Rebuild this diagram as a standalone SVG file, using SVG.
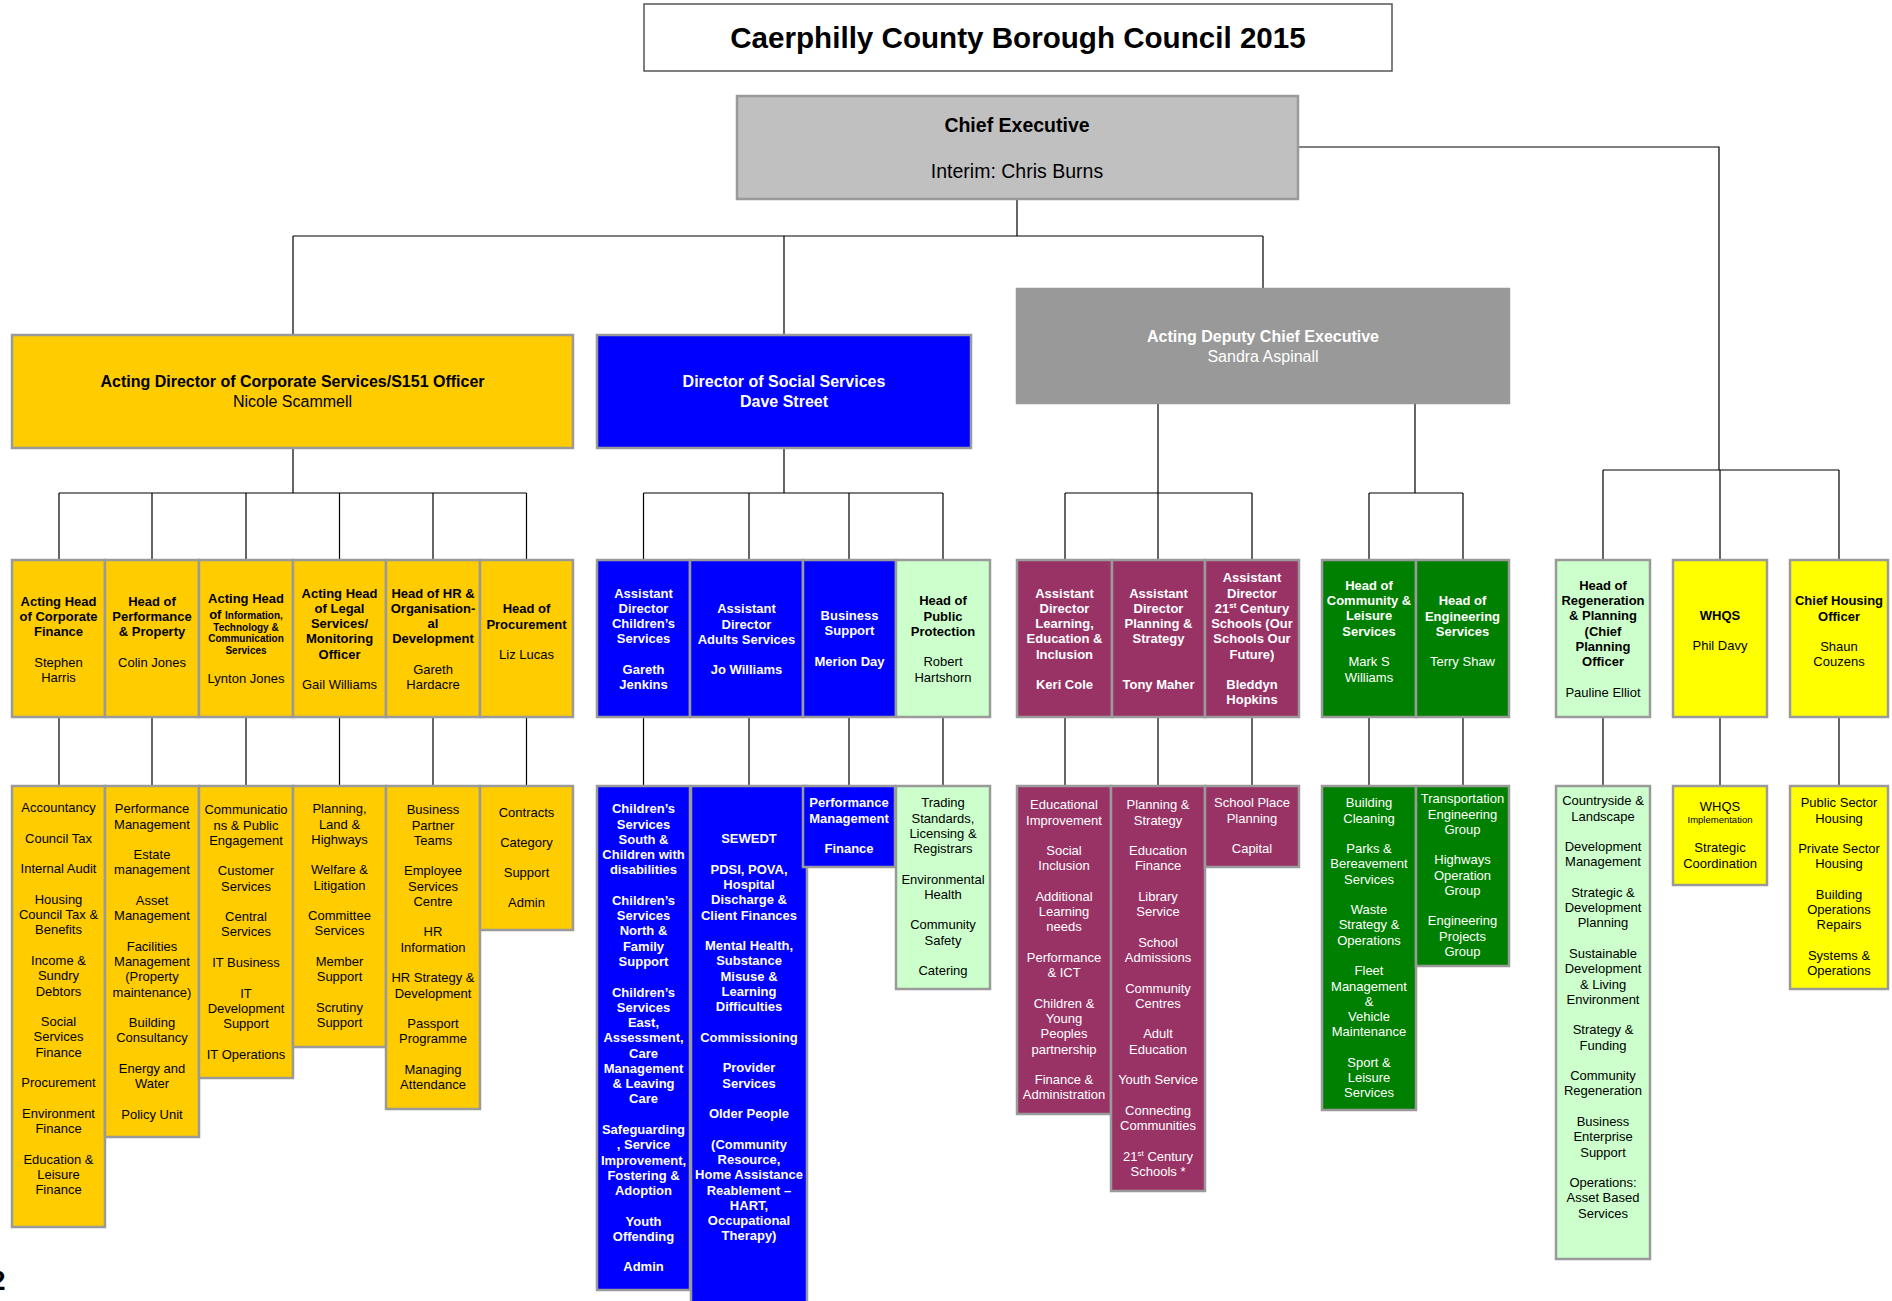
<svg xmlns="http://www.w3.org/2000/svg" width="1892" height="1301" viewBox="0 0 1892 1301">
<style>
text{font-family:"Liberation Sans",Arial,sans-serif;font-size:13px;text-anchor:middle;fill:#000}
.bd{font-weight:bold}
.w{fill:#fff}
.bx{stroke:#9a9a9a;stroke-width:2.5}
.or{fill:#ffcc00}.bl{fill:#0000ff}.pu{fill:#993366}.gr{fill:#008000}.lg{fill:#ccffcc}.ye{fill:#ffff00}
.cn{fill:none;stroke:#000;stroke-width:1.2}
</style>
<rect width="1892" height="1301" fill="#fff"/>
<g id="title"><rect x="644" y="4" width="748" height="67" fill="#fff" stroke="#555" stroke-width="1.5"/>
<text x="1018" y="48" class="bd" style="font-size:29.6px">Caerphilly County Borough Council 2015</text></g>
<g id="connectors" class="cn"><path d="M1017 199V236M293 236H1263M293 236V335M784 236V335M1263 236V289M1298 147H1719V470M1603 470H1839M1603 470V560M1720 470V560M1839 470V560M293 448V493M59 493H526.5M59 493V560M152 493V560M246 493V560M339.5 493V560M433 493V560M526.5 493V560M784 448V493M643.5 493H943M643.5 493V560M749 493V560M849 493V560M943 493V560M1158 403V560M1065 493H1252M1065 493V560M1252 493V560M1415 403V493M1369 493H1463M1369 493V560M1463 493V560M59 717V786M152 717V786M246 717V786M339.5 717V786M433 717V786M526.5 717V786M643.5 717V786M749 717V786M849 717V786M943 717V786M1065 717V786M1158 717V786M1252 717V786M1369 717V786M1463 717V786M1603 717V786M1720 717V786M1839 717V786"/></g>
<g id="chief"><rect x="737" y="96" width="561" height="103" fill="#c0c0c0" class="bx"/>
<text x="1017" y="132" class="bd" style="font-size:19.5px">Chief Executive</text>
<text x="1017" y="177.5" style="font-size:19.5px">Interim: Chris Burns</text></g>
<g id="dir-corporate"><rect x="12" y="335" width="561" height="113" class="bx or"/>
<text x="292.5" y="387" class="bd" style="font-size:16px">Acting Director of Corporate Services/S151 Officer</text>
<text x="292.5" y="406.5" style="font-size:16px">Nicole Scammell</text></g>
<g id="dir-social"><rect x="597" y="335" width="374" height="113" class="bx bl"/>
<text x="784" y="387" class="bd w" style="font-size:16px">Director of Social Services</text>
<text x="784" y="406.5" class="bd w" style="font-size:16px">Dave Street</text></g>
<g id="deputy"><rect x="1017" y="289" width="492" height="114" fill="#999999" class="bx"/>
<text x="1263" y="341.5" class="bd w" style="font-size:16px">Acting Deputy Chief Executive</text>
<text x="1263" y="361.5" class="w" style="font-size:16px">Sandra Aspinall</text></g>

<g id="a1"><rect x="12" y="560" width="93" height="157" class="bx or"/>
<text y="605.6"><tspan x="58.5" class="bd">Acting Head</tspan><tspan x="58.5" dy="15.27" class="bd">of Corporate</tspan><tspan x="58.5" dy="15.27" class="bd">Finance</tspan><tspan x="58.5" dy="30.54">Stephen</tspan><tspan x="58.5" dy="15.27">Harris</tspan></text></g>
<g id="a2"><rect x="105" y="560" width="94" height="157" class="bx or"/>
<text y="605.6"><tspan x="152" class="bd">Head of</tspan><tspan x="152" dy="15.27" class="bd">Performance</tspan><tspan x="152" dy="15.27" class="bd">&amp; Property</tspan><tspan x="152" dy="30.54">Colin Jones</tspan></text></g>
<g id="a3"><rect x="199" y="560" width="94" height="157" class="bx or"/>
<text class="bd"><tspan x="246" y="603.3">Acting Head</tspan><tspan x="246" y="618.5">of <tspan style="font-size:10px">Information,</tspan></tspan><tspan x="246" y="631.3" style="font-size:10px">Technology &amp;</tspan><tspan x="246" y="642.3" style="font-size:10px">Communication</tspan><tspan x="246" y="653.6" style="font-size:10px">Services</tspan></text>
<text x="246" y="683.3">Lynton Jones</text></g>
<g id="a4"><rect x="293" y="560" width="93" height="157" class="bx or"/>
<text y="597.6"><tspan x="339.5" class="bd">Acting Head</tspan><tspan x="339.5" dy="15.27" class="bd">of Legal</tspan><tspan x="339.5" dy="15.27" class="bd">Services/</tspan><tspan x="339.5" dy="15.27" class="bd">Monitoring</tspan><tspan x="339.5" dy="15.27" class="bd">Officer</tspan><tspan x="339.5" dy="30.54">Gail Williams</tspan></text></g>
<g id="a5"><rect x="386" y="560" width="94" height="157" class="bx or"/>
<text y="597.6"><tspan x="433" class="bd">Head of HR &amp;</tspan><tspan x="433" dy="15.27" class="bd">Organisation-</tspan><tspan x="433" dy="15.27" class="bd">al</tspan><tspan x="433" dy="15.27" class="bd">Development</tspan><tspan x="433" dy="30.54">Gareth</tspan><tspan x="433" dy="15.27">Hardacre</tspan></text></g>
<g id="a6"><rect x="480" y="560" width="93" height="157" class="bx or"/>
<text y="613.3"><tspan x="526.5" class="bd">Head of</tspan><tspan x="526.5" dy="15.27" class="bd">Procurement</tspan><tspan x="526.5" dy="30.54">Liz Lucas</tspan></text></g>

<g id="b1"><rect x="597" y="560" width="93" height="157" class="bx bl"/>
<text y="597.6" class="bd w"><tspan x="643.5">Assistant</tspan><tspan x="643.5" dy="15.27">Director</tspan><tspan x="643.5" dy="15.27">Children’s</tspan><tspan x="643.5" dy="15.27">Services</tspan><tspan x="643.5" dy="30.54">Gareth</tspan><tspan x="643.5" dy="15.27">Jenkins</tspan></text></g>
<g id="b2"><rect x="690" y="560" width="113" height="157" class="bx bl"/>
<text y="613.3" class="bd w"><tspan x="746.5">Assistant</tspan><tspan x="746.5" dy="15.27">Director</tspan><tspan x="746.5" dy="15.27">Adults Services</tspan><tspan x="746.5" dy="30.54">Jo Williams</tspan></text></g>
<g id="b3"><rect x="803" y="560" width="93" height="157" class="bx bl"/>
<text y="619.9" class="bd w"><tspan x="849.5">Business</tspan><tspan x="849.5" dy="15.27">Support</tspan><tspan x="849.5" dy="30.54">Merion Day</tspan></text></g>
<g id="b4"><rect x="896" y="560" width="94" height="157" class="bx lg"/>
<text y="605.3"><tspan x="943" class="bd">Head of</tspan><tspan x="943" dy="15.27" class="bd">Public</tspan><tspan x="943" dy="15.27" class="bd">Protection</tspan><tspan x="943" dy="30.54">Robert</tspan><tspan x="943" dy="15.27">Hartshorn</tspan></text></g>

<g id="c1"><rect x="1017" y="560" width="95" height="157" class="bx pu"/>
<text y="597.6" class="bd w"><tspan x="1064.5">Assistant</tspan><tspan x="1064.5" dy="15.27">Director</tspan><tspan x="1064.5" dy="15.27">Learning,</tspan><tspan x="1064.5" dy="15.27">Education &amp;</tspan><tspan x="1064.5" dy="15.27">Inclusion</tspan><tspan x="1064.5" dy="30.54">Keri Cole</tspan></text></g>
<g id="c2"><rect x="1112" y="560" width="93" height="157" class="bx pu"/>
<text y="597.6" class="bd w"><tspan x="1158.5">Assistant</tspan><tspan x="1158.5" dy="15.27">Director</tspan><tspan x="1158.5" dy="15.27">Planning &amp;</tspan><tspan x="1158.5" dy="15.27">Strategy</tspan><tspan x="1158.5" dy="45.81">Tony Maher</tspan></text></g>
<g id="c3"><rect x="1205" y="560" width="94" height="157" class="bx pu"/>
<text y="582.3" class="bd w"><tspan x="1252">Assistant</tspan><tspan x="1252" dy="15.27">Director</tspan><tspan x="1252" dy="15.27">21<tspan dy="-5" style="font-size:8px">st</tspan><tspan dy="5"> Century</tspan></tspan><tspan x="1252" dy="15.27">Schools (Our</tspan><tspan x="1252" dy="15.27">Schools Our</tspan><tspan x="1252" dy="15.27">Future)</tspan><tspan x="1252" dy="30.54">Bleddyn</tspan><tspan x="1252" dy="15.27">Hopkins</tspan></text></g>
<g id="d1"><rect x="1322" y="560" width="94" height="157" class="bx gr"/>
<text y="589.9" class="w"><tspan x="1369" class="bd">Head of</tspan><tspan x="1369" dy="15.27" class="bd">Community &amp;</tspan><tspan x="1369" dy="15.27" class="bd">Leisure</tspan><tspan x="1369" dy="15.27" class="bd">Services</tspan><tspan x="1369" dy="30.54">Mark S</tspan><tspan x="1369" dy="15.27">Williams</tspan></text></g>
<g id="d2"><rect x="1416" y="560" width="93" height="157" class="bx gr"/>
<text y="605.3" class="w"><tspan x="1462.5" class="bd">Head of</tspan><tspan x="1462.5" dy="15.27" class="bd">Engineering</tspan><tspan x="1462.5" dy="15.27" class="bd">Services</tspan><tspan x="1462.5" dy="30.54">Terry Shaw</tspan></text></g>
<g id="e1"><rect x="1556" y="560" width="94" height="157" class="bx lg"/>
<text y="589.9"><tspan x="1603" class="bd">Head of</tspan><tspan x="1603" dy="15.27" class="bd">Regeneration</tspan><tspan x="1603" dy="15.27" class="bd">&amp; Planning</tspan><tspan x="1603" dy="15.27" class="bd">(Chief</tspan><tspan x="1603" dy="15.27" class="bd">Planning</tspan><tspan x="1603" dy="15.27" class="bd">Officer</tspan><tspan x="1603" dy="30.54">Pauline Elliot</tspan></text></g>
<g id="e2"><rect x="1673" y="560" width="94" height="157" class="bx ye"/>
<text y="619.9"><tspan x="1720" class="bd">WHQS</tspan><tspan x="1720" dy="30.54">Phil Davy</tspan></text></g>
<g id="e3"><rect x="1790" y="560" width="98" height="157" class="bx ye"/>
<text y="605.3"><tspan x="1839" class="bd">Chief Housing</tspan><tspan x="1839" dy="15.27" class="bd">Officer</tspan><tspan x="1839" dy="30.54">Shaun</tspan><tspan x="1839" dy="15.27">Couzens</tspan></text></g>

<g id="f1"><rect x="12" y="786" width="93" height="441" class="bx or"/>
<text y="812.3"><tspan x="58.5">Accountancy</tspan><tspan x="58.5" dy="30.54">Council Tax</tspan><tspan x="58.5" dy="30.54">Internal Audit</tspan><tspan x="58.5" dy="30.54">Housing</tspan><tspan x="58.5" dy="15.27">Council Tax &amp;</tspan><tspan x="58.5" dy="15.27">Benefits</tspan><tspan x="58.5" dy="30.54">Income &amp;</tspan><tspan x="58.5" dy="15.27">Sundry</tspan><tspan x="58.5" dy="15.27">Debtors</tspan><tspan x="58.5" dy="30.54">Social</tspan><tspan x="58.5" dy="15.27">Services</tspan><tspan x="58.5" dy="15.27">Finance</tspan><tspan x="58.5" dy="30.54">Procurement</tspan><tspan x="58.5" dy="30.54">Environment</tspan><tspan x="58.5" dy="15.27">Finance</tspan><tspan x="58.5" dy="30.54">Education &amp;</tspan><tspan x="58.5" dy="15.27">Leisure</tspan><tspan x="58.5" dy="15.27">Finance</tspan></text></g>
<g id="f2"><rect x="105" y="786" width="94" height="351" class="bx or"/>
<text y="813.3"><tspan x="152">Performance</tspan><tspan x="152" dy="15.27">Management</tspan><tspan x="152" dy="30.54">Estate</tspan><tspan x="152" dy="15.27">management</tspan><tspan x="152" dy="30.54">Asset</tspan><tspan x="152" dy="15.27">Management</tspan><tspan x="152" dy="30.54">Facilities</tspan><tspan x="152" dy="15.27">Management</tspan><tspan x="152" dy="15.27">(Property</tspan><tspan x="152" dy="15.27">maintenance)</tspan><tspan x="152" dy="30.54">Building</tspan><tspan x="152" dy="15.27">Consultancy</tspan><tspan x="152" dy="30.54">Energy and</tspan><tspan x="152" dy="15.27">Water</tspan><tspan x="152" dy="30.54">Policy Unit</tspan></text></g>
<g id="f3"><rect x="199" y="786" width="94" height="292" class="bx or"/>
<text y="814.3"><tspan x="246">Communicatio</tspan><tspan x="246" dy="15.27">ns &amp; Public</tspan><tspan x="246" dy="15.27">Engagement</tspan><tspan x="246" dy="30.54">Customer</tspan><tspan x="246" dy="15.27">Services</tspan><tspan x="246" dy="30.54">Central</tspan><tspan x="246" dy="15.27">Services</tspan><tspan x="246" dy="30.54">IT Business</tspan><tspan x="246" dy="30.54">IT</tspan><tspan x="246" dy="15.27">Development</tspan><tspan x="246" dy="15.27">Support</tspan><tspan x="246" dy="30.54">IT Operations</tspan></text></g>
<g id="f4"><rect x="293" y="786" width="93" height="261" class="bx or"/>
<text y="813.3"><tspan x="339.5">Planning,</tspan><tspan x="339.5" dy="15.27">Land &amp;</tspan><tspan x="339.5" dy="15.27">Highways</tspan><tspan x="339.5" dy="30.54">Welfare &amp;</tspan><tspan x="339.5" dy="15.27">Litigation</tspan><tspan x="339.5" dy="30.54">Committee</tspan><tspan x="339.5" dy="15.27">Services</tspan><tspan x="339.5" dy="30.54">Member</tspan><tspan x="339.5" dy="15.27">Support</tspan><tspan x="339.5" dy="30.54">Scrutiny</tspan><tspan x="339.5" dy="15.27">Support</tspan></text></g>
<g id="f5"><rect x="386" y="786" width="94" height="323" class="bx or"/>
<text y="814.3"><tspan x="433">Business</tspan><tspan x="433" dy="15.27">Partner</tspan><tspan x="433" dy="15.27">Teams</tspan><tspan x="433" dy="30.54">Employee</tspan><tspan x="433" dy="15.27">Services</tspan><tspan x="433" dy="15.27">Centre</tspan><tspan x="433" dy="30.54">HR</tspan><tspan x="433" dy="15.27">Information</tspan><tspan x="433" dy="30.54">HR Strategy &amp;</tspan><tspan x="433" dy="15.27">Development</tspan><tspan x="433" dy="30.54">Passport</tspan><tspan x="433" dy="15.27">Programme</tspan><tspan x="433" dy="30.54">Managing</tspan><tspan x="433" dy="15.27">Attendance</tspan></text></g>
<g id="f6"><rect x="480" y="786" width="93" height="144" class="bx or"/>
<text y="816.6"><tspan x="526.5">Contracts</tspan><tspan x="526.5" dy="30.2">Category</tspan><tspan x="526.5" dy="30.2">Support</tspan><tspan x="526.5" dy="30.2">Admin</tspan></text></g>

<g id="g1"><rect x="597" y="786" width="93" height="504" class="bx bl"/>
<text y="813.3" class="bd w"><tspan x="643.5">Children’s</tspan><tspan x="643.5" dy="15.27">Services</tspan><tspan x="643.5" dy="15.27">South &amp;</tspan><tspan x="643.5" dy="15.27">Children with</tspan><tspan x="643.5" dy="15.27">disabilities</tspan><tspan x="643.5" dy="30.54">Children’s</tspan><tspan x="643.5" dy="15.27">Services</tspan><tspan x="643.5" dy="15.27">North &amp;</tspan><tspan x="643.5" dy="15.27">Family</tspan><tspan x="643.5" dy="15.27">Support</tspan><tspan x="643.5" dy="30.54">Children’s</tspan><tspan x="643.5" dy="15.27">Services</tspan><tspan x="643.5" dy="15.27">East,</tspan><tspan x="643.5" dy="15.27">Assessment,</tspan><tspan x="643.5" dy="15.27">Care</tspan><tspan x="643.5" dy="15.27">Management</tspan><tspan x="643.5" dy="15.27">&amp; Leaving</tspan><tspan x="643.5" dy="15.27">Care</tspan><tspan x="643.5" dy="30.54">Safeguarding</tspan><tspan x="643.5" dy="15.27">, Service</tspan><tspan x="643.5" dy="15.27">Improvement,</tspan><tspan x="643.5" dy="15.27">Fostering &amp;</tspan><tspan x="643.5" dy="15.27">Adoption</tspan><tspan x="643.5" dy="30.54">Youth</tspan><tspan x="643.5" dy="15.27">Offending</tspan><tspan x="643.5" dy="30.54">Admin</tspan></text></g>
<g id="g2"><rect x="691" y="786" width="116" height="530" class="bx bl"/>
<text y="843.3" class="bd w"><tspan x="749">SEWEDT</tspan><tspan x="749" dy="30.54">PDSI, POVA,</tspan><tspan x="749" dy="15.27">Hospital</tspan><tspan x="749" dy="15.27">Discharge &amp;</tspan><tspan x="749" dy="15.27">Client Finances</tspan><tspan x="749" dy="30.54">Mental Health,</tspan><tspan x="749" dy="15.27">Substance</tspan><tspan x="749" dy="15.27">Misuse &amp;</tspan><tspan x="749" dy="15.27">Learning</tspan><tspan x="749" dy="15.27">Difficulties</tspan><tspan x="749" dy="30.54">Commissioning</tspan><tspan x="749" dy="30.54">Provider</tspan><tspan x="749" dy="15.27">Services</tspan><tspan x="749" dy="30.54">Older People</tspan><tspan x="749" dy="30.54">(Community</tspan><tspan x="749" dy="15.27">Resource,</tspan><tspan x="749" dy="15.27">Home Assistance</tspan><tspan x="749" dy="15.27">Reablement –</tspan><tspan x="749" dy="15.27">HART,</tspan><tspan x="749" dy="15.27">Occupational</tspan><tspan x="749" dy="15.27">Therapy)</tspan></text></g>
<g id="g3"><rect x="803" y="786" width="92" height="81" class="bx bl"/>
<text y="807.3" class="bd w"><tspan x="849">Performance</tspan><tspan x="849" dy="15.27">Management</tspan><tspan x="849" dy="30.54">Finance</tspan></text></g>
<g id="g4"><rect x="896" y="786" width="94" height="203" class="bx lg"/>
<text y="807.3"><tspan x="943">Trading</tspan><tspan x="943" dy="15.27">Standards,</tspan><tspan x="943" dy="15.27">Licensing &amp;</tspan><tspan x="943" dy="15.27">Registrars</tspan><tspan x="943" dy="30.54">Environmental</tspan><tspan x="943" dy="15.27">Health</tspan><tspan x="943" dy="30.54">Community</tspan><tspan x="943" dy="15.27">Safety</tspan><tspan x="943" dy="30.54">Catering</tspan></text></g>

<g id="h1"><rect x="1017" y="786" width="94" height="328" class="bx pu"/>
<text y="809.3" class="w"><tspan x="1064">Educational</tspan><tspan x="1064" dy="15.27">Improvement</tspan><tspan x="1064" dy="30.54">Social</tspan><tspan x="1064" dy="15.27">Inclusion</tspan><tspan x="1064" dy="30.54">Additional</tspan><tspan x="1064" dy="15.27">Learning</tspan><tspan x="1064" dy="15.27">needs</tspan><tspan x="1064" dy="30.54">Performance</tspan><tspan x="1064" dy="15.27">&amp; ICT</tspan><tspan x="1064" dy="30.54">Children &amp;</tspan><tspan x="1064" dy="15.27">Young</tspan><tspan x="1064" dy="15.27">Peoples</tspan><tspan x="1064" dy="15.27">partnership</tspan><tspan x="1064" dy="30.54">Finance &amp;</tspan><tspan x="1064" dy="15.27">Administration</tspan></text></g>
<g id="h2"><rect x="1111" y="786" width="94" height="405" class="bx pu"/>
<text y="809.3" class="w"><tspan x="1158">Planning &amp;</tspan><tspan x="1158" dy="15.27">Strategy</tspan><tspan x="1158" dy="30.54">Education</tspan><tspan x="1158" dy="15.27">Finance</tspan><tspan x="1158" dy="30.54">Library</tspan><tspan x="1158" dy="15.27">Service</tspan><tspan x="1158" dy="30.54">School</tspan><tspan x="1158" dy="15.27">Admissions</tspan><tspan x="1158" dy="30.54">Community</tspan><tspan x="1158" dy="15.27">Centres</tspan><tspan x="1158" dy="30.54">Adult</tspan><tspan x="1158" dy="15.27">Education</tspan><tspan x="1158" dy="30.54">Youth Service</tspan><tspan x="1158" dy="30.54">Connecting</tspan><tspan x="1158" dy="15.27">Communities</tspan><tspan x="1158" dy="30.54">21<tspan dy="-5" style="font-size:8px">st</tspan><tspan dy="5"> Century</tspan></tspan><tspan x="1158" dy="15.27">Schools *</tspan></text></g>
<g id="h3"><rect x="1205" y="786" width="94" height="81" class="bx pu"/>
<text y="807.3" class="w"><tspan x="1252">School Place</tspan><tspan x="1252" dy="15.27">Planning</tspan><tspan x="1252" dy="30.54">Capital</tspan></text></g>
<g id="i1"><rect x="1322" y="786" width="94" height="324" class="bx gr"/>
<text y="807.3" class="w"><tspan x="1369">Building</tspan><tspan x="1369" dy="15.27">Cleaning</tspan><tspan x="1369" dy="30.54">Parks &amp;</tspan><tspan x="1369" dy="15.27">Bereavement</tspan><tspan x="1369" dy="15.27">Services</tspan><tspan x="1369" dy="30.54">Waste</tspan><tspan x="1369" dy="15.27">Strategy &amp;</tspan><tspan x="1369" dy="15.27">Operations</tspan><tspan x="1369" dy="30.54">Fleet</tspan><tspan x="1369" dy="15.27">Management</tspan><tspan x="1369" dy="15.27">&amp;</tspan><tspan x="1369" dy="15.27">Vehicle</tspan><tspan x="1369" dy="15.27">Maintenance</tspan><tspan x="1369" dy="30.54">Sport &amp;</tspan><tspan x="1369" dy="15.27">Leisure</tspan><tspan x="1369" dy="15.27">Services</tspan></text></g>
<g id="i2"><rect x="1416" y="786" width="93" height="180" class="bx gr"/>
<text y="803.3" class="w"><tspan x="1462.5">Transportation</tspan><tspan x="1462.5" dy="15.27">Engineering</tspan><tspan x="1462.5" dy="15.27">Group</tspan><tspan x="1462.5" dy="30.54">Highways</tspan><tspan x="1462.5" dy="15.27">Operation</tspan><tspan x="1462.5" dy="15.27">Group</tspan><tspan x="1462.5" dy="30.54">Engineering</tspan><tspan x="1462.5" dy="15.27">Projects</tspan><tspan x="1462.5" dy="15.27">Group</tspan></text></g>
<g id="j1"><rect x="1556" y="786" width="94" height="473" class="bx lg"/>
<text y="805.3"><tspan x="1603">Countryside &amp;</tspan><tspan x="1603" dy="15.27">Landscape</tspan><tspan x="1603" dy="30.54">Development</tspan><tspan x="1603" dy="15.27">Management</tspan><tspan x="1603" dy="30.54">Strategic &amp;</tspan><tspan x="1603" dy="15.27">Development</tspan><tspan x="1603" dy="15.27">Planning</tspan><tspan x="1603" dy="30.54">Sustainable</tspan><tspan x="1603" dy="15.27">Development</tspan><tspan x="1603" dy="15.27">&amp; Living</tspan><tspan x="1603" dy="15.27">Environment</tspan><tspan x="1603" dy="30.54">Strategy &amp;</tspan><tspan x="1603" dy="15.27">Funding</tspan><tspan x="1603" dy="30.54">Community</tspan><tspan x="1603" dy="15.27">Regeneration</tspan><tspan x="1603" dy="30.54">Business</tspan><tspan x="1603" dy="15.27">Enterprise</tspan><tspan x="1603" dy="15.27">Support</tspan><tspan x="1603" dy="30.54">Operations:</tspan><tspan x="1603" dy="15.27">Asset Based</tspan><tspan x="1603" dy="15.27">Services</tspan></text></g>
<g id="k1"><rect x="1673" y="786" width="94" height="99" class="bx ye"/>
<text><tspan x="1720" y="810.9">WHQS</tspan><tspan x="1720" y="823.4" style="font-size:9.5px">Implementation</tspan><tspan x="1720" y="852.3">Strategic</tspan><tspan x="1720" y="868.3">Coordination</tspan></text></g>
<g id="k2"><rect x="1790" y="786" width="98" height="203" class="bx ye"/>
<text y="807.3"><tspan x="1839">Public Sector</tspan><tspan x="1839" dy="15.27">Housing</tspan><tspan x="1839" dy="30.54">Private Sector</tspan><tspan x="1839" dy="15.27">Housing</tspan><tspan x="1839" dy="30.54">Building</tspan><tspan x="1839" dy="15.27">Operations</tspan><tspan x="1839" dy="15.27">Repairs</tspan><tspan x="1839" dy="30.54">Systems &amp;</tspan><tspan x="1839" dy="15.27">Operations</tspan></text></g>
<text x="-10" y="1290" style="font-size:28px;text-anchor:start;font-weight:bold">2</text>
</svg>
